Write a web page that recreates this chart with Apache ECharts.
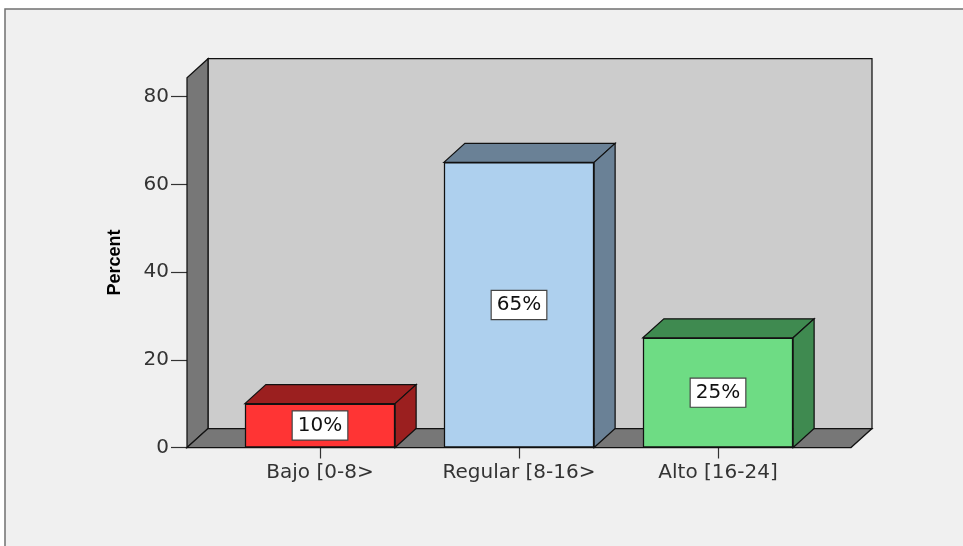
<!DOCTYPE html>
<html>
<head>
<meta charset="utf-8">
<title>Percent by level</title>
<script src="https://cdn.jsdelivr.net/npm/echarts@6/dist/echarts.min.js"></script>
<style>
  html, body { margin: 0; padding: 0; background: #ffffff; }
  #chart { width: 963px; height: 546px; }
</style>
</head>
<body>
<div id="chart"></div>
<script>
// Categories and their percentages
const categories = ['Bajo [0-8>', 'Regular [8-16>', 'Alto [16-24]'];
const percents = [10, 65, 25];
const yTickValues = [0, 20, 40, 60, 80];

// Face colours: front face and darker shade for top / side faces
const frontColors = ['#ff3434', '#aed0ee', '#6edc84'];
const shadeColors = ['#9b1f1f', '#6a8196', '#3f8a50'];

// 3D look
const Y_MAX = 84.3;       // top of the walls / axis
const DEPTH_X = 21;       // depth offset in pixels
const DEPTH_Y = 19;
const WALL_PAD = 33.5;    // floor extends past the outer bands
const BAR_FRACTION = 0.755;
const EDGE = '#111111';
const EDGE_W = 1.25;
const FONT = 'DejaVu Sans';

const chart = echarts.init(document.getElementById('chart'), null, { renderer: 'canvas' });

function renderWalls(params, api) {
  const band = api.size([1, 0])[0];
  const first = api.coord([0, 0]);
  const last = api.coord([categories.length - 1, 0]);
  const topY = api.coord([0, Y_MAX])[1];
  const baseY = first[1];
  const xl = first[0] - band / 2 - WALL_PAD;
  const xr = last[0] + band / 2 + WALL_PAD;
  const style = (fill) => ({ fill: fill, stroke: EDGE, lineWidth: EDGE_W });
  return {
    type: 'group',
    children: [
      { // back wall
        type: 'polygon',
        shape: { points: [[xl + DEPTH_X, topY - DEPTH_Y], [xr + DEPTH_X, topY - DEPTH_Y], [xr + DEPTH_X, baseY - DEPTH_Y], [xl + DEPTH_X, baseY - DEPTH_Y]] },
        style: style('#cccccc')
      },
      { // left wall
        type: 'polygon',
        shape: { points: [[xl, baseY], [xl, topY], [xl + DEPTH_X, topY - DEPTH_Y], [xl + DEPTH_X, baseY - DEPTH_Y]] },
        style: style('#777777')
      },
      { // floor
        type: 'polygon',
        shape: { points: [[xl, baseY], [xr, baseY], [xr + DEPTH_X, baseY - DEPTH_Y], [xl + DEPTH_X, baseY - DEPTH_Y]] },
        style: style('#777777')
      }
    ]
  };
}

function renderBarShade(params, api) {
  const i = api.value(0);
  const v = api.value(1);
  const top = api.coord([i, v]);
  const base = api.coord([i, 0]);
  const w = api.size([1, 0])[0] * BAR_FRACTION;
  const x0 = top[0] - w / 2;
  const x1 = top[0] + w / 2;
  const st = { fill: shadeColors[params.dataIndex], stroke: EDGE, lineWidth: EDGE_W };
  return {
    type: 'group',
    children: [
      {
        type: 'polygon',
        shape: { points: [[x0, top[1]], [x0 + DEPTH_X, top[1] - DEPTH_Y], [x1 + DEPTH_X, top[1] - DEPTH_Y], [x1, top[1]]] },
        style: st
      },
      {
        type: 'polygon',
        shape: { points: [[x1, top[1]], [x1 + DEPTH_X, top[1] - DEPTH_Y], [x1 + DEPTH_X, base[1] - DEPTH_Y], [x1, base[1]]] },
        style: st
      }
    ]
  };
}

const option = {
  animation: false,
  backgroundColor: '#ffffff',
  graphic: [
    {
      type: 'rect',
      z: -10,
      silent: true,
      shape: { x: 5, y: 9, width: 1000, height: 600 },
      style: { fill: '#f0f0f0', stroke: '#707070', lineWidth: 1.5 }
    }
  ],
  grid: { left: 220.5, width: 597, top: 77.7, bottom: 98.5, containLabel: false },
  xAxis: {
    type: 'category',
    data: categories,
    axisLine: { show: false },
    axisTick: { show: true, alignWithLabel: true, length: 11, lineStyle: { color: '#333333', width: 1.2 } },
    axisLabel: { margin: 15, fontSize: 20, fontFamily: FONT, color: '#333333' },
    splitLine: { show: false }
  },
  yAxis: {
    type: 'value',
    min: 0,
    max: Y_MAX,
    interval: 20,
    offset: WALL_PAD,
    name: 'Percent',
    nameLocation: 'middle',
    nameRotate: 90,
    nameGap: 63,
    nameTextStyle: { fontSize: 18, fontWeight: 'bold', fontFamily: 'Liberation Sans', color: '#000000' },
    axisLine: { show: false },
    axisTick: { show: true, length: 16, customValues: yTickValues, lineStyle: { color: '#333333', width: 1.2 } },
    axisLabel: { margin: 18, fontSize: 20, fontFamily: FONT, color: '#333333', customValues: yTickValues },
    splitLine: { show: false }
  },
  series: [
    {
      type: 'custom',
      name: 'walls',
      z: 1,
      silent: true,
      renderItem: renderWalls,
      data: [[0, 0]]
    },
    {
      type: 'custom',
      name: 'bar faces',
      z: 2,
      silent: true,
      renderItem: renderBarShade,
      data: percents.map((v, i) => [i, v])
    },
    {
      type: 'bar',
      name: 'Percent',
      z: 3,
      barWidth: (BAR_FRACTION * 100) + '%',
      data: percents.map((v, i) => ({ value: v, itemStyle: { color: frontColors[i] } })),
      itemStyle: { borderColor: EDGE, borderWidth: EDGE_W },
      label: {
        show: true,
        position: 'inside',
        formatter: '{c}%',
        fontSize: 20,
        fontFamily: FONT,
        color: '#111111',
        backgroundColor: '#ffffff',
        borderColor: '#444444',
        borderWidth: 1.2,
        padding: [4, 5, 4, 5]
      }
    }
  ]
};

chart.setOption(option);
</script>
</body>
</html>
